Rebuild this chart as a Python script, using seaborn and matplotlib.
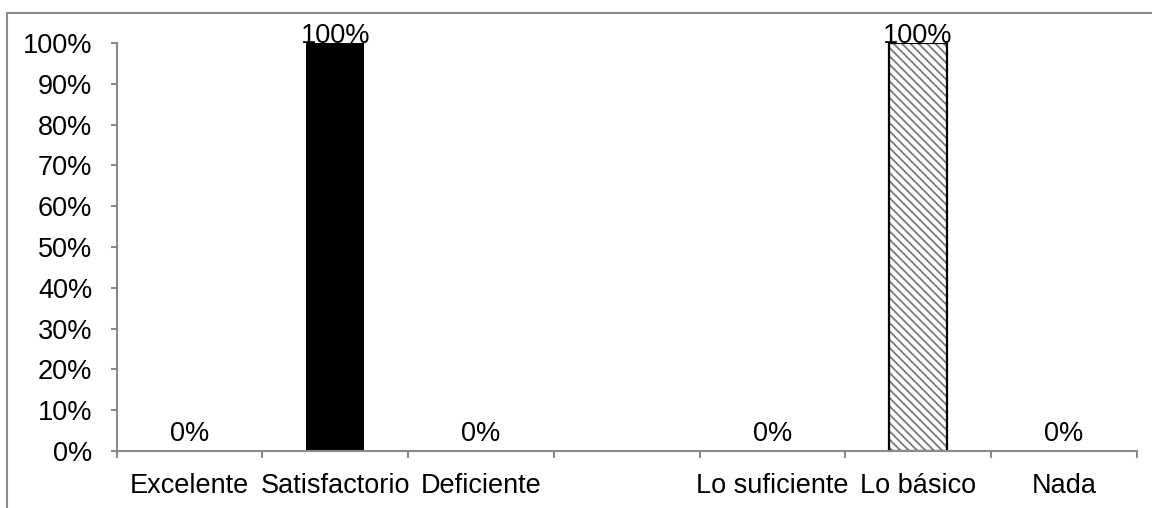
import matplotlib
matplotlib.use("Agg")
import matplotlib.pyplot as plt
import seaborn as sns
import pandas as pd
import numpy as np
from matplotlib.patches import Rectangle
from matplotlib.ticker import FixedLocator, PercentFormatter

# Survey answers: two question groups separated by an empty slot
categories = ["Excelente", "Satisfactorio", "Deficiente", " ",
              "Lo suficiente", "Lo básico", "Nada"]
values = [0, 100, 0, np.nan, 0, 100, 0]
bar_colors = {"Excelente": "black", "Satisfactorio": "black", "Deficiente": "black",
              " ": "white", "Lo suficiente": "white", "Lo básico": "white",
              "Nada": "white"}
hatched = ["Lo suficiente", "Lo básico", "Nada"]

sns.set_theme(style="white")
plt.rcParams["font.family"] = ["Liberation Sans", "DejaVu Sans"]
plt.rcParams["hatch.linewidth"] = 1.3

axis_gray = "#8a8a8a"
FS = 19.5

df = pd.DataFrame({"categoria": categories, "valor": values})

fig = plt.figure(figsize=(11.52, 5.08), dpi=100)
ax = fig.add_axes([0.1013, 0.1122, 0.8854, 0.8032])

sns.barplot(data=df, x="categoria", y="valor", hue="categoria",
            order=categories, hue_order=categories, palette=bar_colors,
            width=0.4, legend=False, ax=ax, saturation=1)

# Second group: white bars, grey diagonal hatching, black outline
present = [c for c in categories if c in df.dropna()["categoria"].values]
for cont, cat in zip(ax.containers, present):
    for patch in cont.patches:
        if cat in hatched:
            patch.set_hatch("\\\\\\\\")
            patch.set_edgecolor("#7a7a7a")
            patch.set_linewidth(0)
            if patch.get_height() > 0:
                outline = Rectangle(patch.get_xy(), patch.get_width(),
                                    patch.get_height(), fill=False,
                                    edgecolor="black", linewidth=1.6,
                                    zorder=patch.get_zorder() + 0.1)
                ax.add_patch(outline)
        else:
            patch.set_edgecolor("none")

# Value labels
for i, (cat, v) in enumerate(zip(categories, values)):
    if np.isnan(v):
        continue
    offset = 0 if v > 0 else 7.5
    ax.annotate(f"{v:.0f}%", xy=(i, v), xytext=(0, offset),
                textcoords="offset points", ha="center", va="baseline",
                fontsize=FS, color="black", annotation_clip=False)

ax.set_xlim(-0.5, len(categories) - 0.5)
ax.set_ylim(0, 100)
ax.yaxis.set_major_locator(FixedLocator(np.arange(0, 101, 10)))
ax.yaxis.set_major_formatter(PercentFormatter(decimals=0))

# Category names centred under each slot, tick marks on slot boundaries
ax.set_xticks(range(len(categories)))
ax.set_xticklabels(categories)
ax.set_xticks(np.arange(-0.5, len(categories), 1.0), minor=True)
ax.tick_params(axis="x", which="major", length=0, pad=16, labelsize=FS,
               labelcolor="black")
ax.tick_params(axis="x", which="minor", length=5, width=1.5, color=axis_gray,
               direction="out", bottom=True)
ax.tick_params(axis="y", length=4.5, width=1.5, color=axis_gray, direction="out",
               pad=13, labelsize=FS, labelcolor="black", left=True)

ax.set_xlabel("")
ax.set_ylabel("")
for side in ("top", "right"):
    ax.spines[side].set_visible(False)
for side in ("left", "bottom"):
    ax.spines[side].set_color(axis_gray)
    ax.spines[side].set_linewidth(1.5)

# Chart area frame
fig.add_artist(Rectangle((7 / 1152, -0.2), 1.5, 1.2 - 13 / 508,
                         transform=fig.transFigure, fill=False,
                         edgecolor=axis_gray, linewidth=1.5, clip_on=False))

fig.savefig("out.png", dpi=100)
